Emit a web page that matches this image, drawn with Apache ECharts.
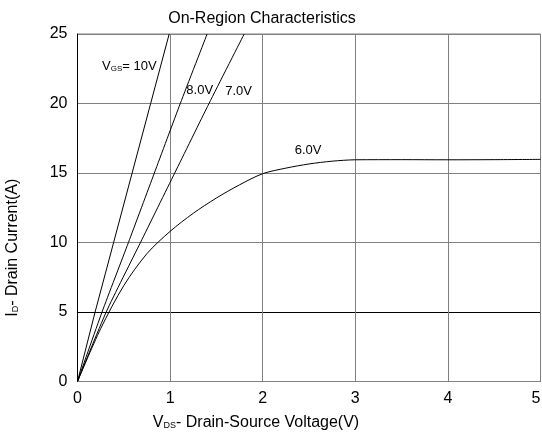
<!DOCTYPE html>
<html>
<head>
<meta charset="utf-8">
<script src="https://cdn.jsdelivr.net/npm/echarts@6/dist/echarts.min.js"></script>
<style>
  html, body { margin: 0; padding: 0; background: #fff; }
  #chart { width: 542px; height: 435px; }
</style>
</head>
<body>
<div id="chart"></div>
<script>
// Drain current I_D (A) against drain-source voltage V_DS (V), one curve per gate voltage.
const vgs10 = [[0, 0], [0.19, 5], [0.39, 10], [0.59, 15], [0.79, 20], [0.99, 25]];
const vgs8 = [[0, 0], [0.265, 5], [0.55, 10], [0.83, 15], [1.11, 20], [1.40, 25]];
const vgs7 = [[0, 0], [0.31, 5], [0.68, 10], [1.05, 15], [1.42, 20], [1.80, 25]];
const vgs6 = [[0, 0], [0.25, 3.8], [0.5, 6.9], [0.75, 9.2], [1.0, 10.8], [1.25, 12.1],
              [1.5, 13.2], [1.75, 14.15], [2.0, 14.95], [2.25, 15.35], [2.5, 15.65], [2.75, 15.85],
              [3.0, 15.95], [3.5, 15.96], [4.0, 15.95], [4.5, 15.96], [5.0, 15.98]];

// Curve labels, anchored in data coordinates
const curveLabels = [
  { text: 'V{sub|GS}= 10V', at: [0.56, 22.65] },
  { text: '8.0V', at: [1.32, 20.95] },
  { text: '7.0V', at: [1.74, 20.9] },
  { text: '6.0V', at: [2.49, 16.6] }
];

const xTicks = [0, 1, 2, 3, 4, 5];
const yTicks = [0, 5, 10, 15, 20, 25];

const FONT = "'Liberation Sans', Arial, sans-serif";
const chart = echarts.init(document.getElementById('chart'), null, { renderer: 'canvas' });

const lineSeries = (name, data, smooth) => ({
  name, type: 'line', data, smooth, showSymbol: false, clip: true,
  lineStyle: { color: '#000', width: 1 }, silent: true, animation: false
});

chart.setOption({
  animation: false,
  backgroundColor: '#fff',
  title: {
    text: 'On-Region Characteristics', left: 257, top: 6, textAlign: 'center',
    textStyle: { fontFamily: FONT, fontSize: 16, fontWeight: 'normal', color: '#000' }
  },
  grid: { left: 77.5, right: 1.5, top: 34, bottom: 53.5, containLabel: false,
          outerBoundsMode: 'none',
          show: true, borderColor: '#808080', borderWidth: 1 },
  xAxis: {
    type: 'value', min: xTicks[0], max: xTicks[xTicks.length - 1], interval: 1,
    name: 'V{sub|DS}- Drain-Source Voltage(V)', nameLocation: 'middle', nameGap: 33,
    nameTextStyle: { fontFamily: FONT, fontSize: 16, color: '#000', padding: [0, 106, 0, 0],
      rich: { sub: { fontSize: 9, fontFamily: FONT, padding: [6, 0, 0, 0] } } },
    axisLine: { show: true, lineStyle: { color: '#808080', width: 1 } },
    axisTick: { show: false },
    axisLabel: { fontFamily: FONT, fontSize: 16, color: '#000', margin: 9, alignMaxLabel: 'right' },
    splitLine: { show: true, lineStyle: { color: '#808080', width: 1 } }
  },
  yAxis: {
    type: 'value', min: yTicks[0], max: yTicks[yTicks.length - 1], interval: 5,
    name: 'I{sub|D}- Drain Current(A)', nameLocation: 'middle', nameGap: 57,
    nameTextStyle: { fontFamily: FONT, fontSize: 16, color: '#000', padding: [0, 80, 0, 0],
      rich: { sub: { fontSize: 9, fontFamily: FONT, padding: [6, 0, 0, 0] } } },
    axisLine: { show: true, lineStyle: { color: '#000', width: 1 } },
    axisTick: { show: false },
    axisLabel: { fontFamily: FONT, fontSize: 16, color: '#000', margin: 10 },
    // the 5 A line is drawn in black, the others in grey
    splitLine: { show: true, lineStyle: { color: ['#808080', '#000', '#808080', '#808080', '#808080', '#808080'], width: 1 } }
  },
  series: [
    lineSeries('10V', vgs10, false),
    lineSeries('8.0V', vgs8, 0.2),
    lineSeries('7.0V', vgs7, 0.2),
    Object.assign(lineSeries('6.0V', vgs6, 0.3), {
      markPoint: {
        symbol: 'circle', symbolSize: 0, silent: true, animation: false,
        data: curveLabels.map(l => ({
          coord: l.at,
          label: {
            show: true, position: 'inside', formatter: l.text,
            fontFamily: FONT, fontSize: 13, color: '#000',
            rich: { sub: { fontSize: 8, fontFamily: FONT, padding: [5, 0, 0, 0] } }
          }
        }))
      }
    })
  ]
});
</script>
</body>
</html>
